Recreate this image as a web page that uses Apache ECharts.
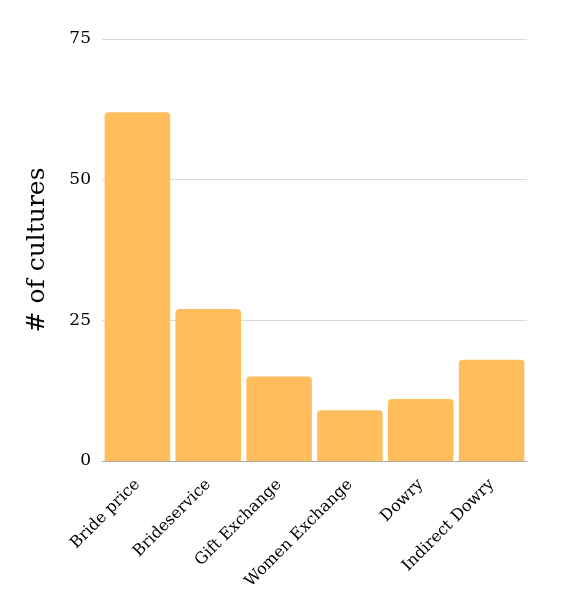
<!DOCTYPE html>
<html><head><meta charset="utf-8">
<script src="https://cdn.jsdelivr.net/npm/echarts@6/dist/echarts.min.js"></script>
<style>html,body{margin:0;padding:0;background:#fff}#c{width:570px;height:609px}</style>
</head><body><div id="c"></div>
<script>
const categories = ["Bride price","Brideservice","Gift Exchange","Women Exchange","Dowry","Indirect Dowry"];
const values = [62,27,15,9,11,18];
const yTicks = [0,25,50,75];
const font = "'DejaVu Serif', serif";
const chart = echarts.init(document.getElementById('c'));
chart.setOption({
  animation:false,
  grid:{left:102,right:43,top:39,bottom:148},
  xAxis:{type:'category',data:categories,
    axisLine:{lineStyle:{color:'#aaaaaa'}},axisTick:{show:false},
    axisLabel:{rotate:45,interval:0,color:'#000',fontFamily:font,fontSize:16,margin:21}},
  yAxis:{type:'value',min:0,max:75,interval:25,
    name:'# of cultures',nameLocation:'middle',nameGap:52,
    nameTextStyle:{fontFamily:font,fontSize:25,color:'#000'},
    axisLine:{show:false},axisTick:{show:false},
    splitLine:{lineStyle:{color:'#d9d9d9'}},
    axisLabel:{color:'#000',fontFamily:font,fontSize:17,margin:11,
      formatter:v=>yTicks.includes(v)?String(v):''}},
  series:[{type:'bar',data:values,barCategoryGap:'7.5%',
    itemStyle:{color:'#ffbd5b',borderRadius:[4,4,0,0]}}]
});
</script></body></html>
